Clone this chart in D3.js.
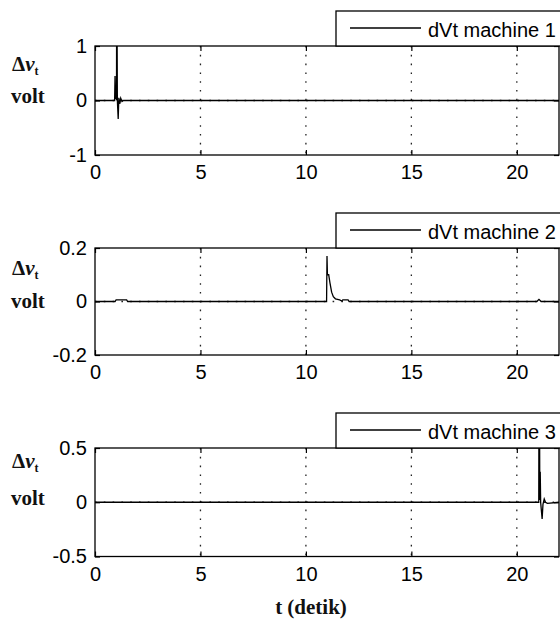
<!DOCTYPE html>
<html>
<head>
<meta charset="utf-8">
<script src="https://cdn.jsdelivr.net/npm/d3@7"></script>
<style>
  body { margin: 0; background: #fff; }
  svg { display: block; }
  .tick text { font-family: "Liberation Sans", Arial, sans-serif; font-size: 20px; fill: #000; }
  .tick line { stroke: #000; stroke-width: 1.2; }
  .domain { display: none; }
  .grid line { stroke: #222; stroke-width: 1.3; stroke-dasharray: 1.6 7.2; }
  .frame { fill: none; stroke: #000; stroke-width: 1.3; }
  .trace { fill: none; stroke: #000; stroke-width: 1.3; }
  .ylab { font-family: "Liberation Serif", "Times New Roman", serif; font-weight: bold; font-size: 21px; fill: #111; }
  .legend text { font-family: "Liberation Sans", Arial, sans-serif; font-size: 20px; fill: #000; }
</style>
</head>
<body>
<svg id="chart" width="560" height="619"></svg>
<script>
// time axis (detik)
const tDomain = [0, 22];
const tTicks = [0, 5, 10, 15, 20];

// machine 1
const m1Time = [0, 0.93, 0.95, 0.97, 1.02, 1.03, 1.06, 1.10, 1.13, 1.18, 1.22, 1.28, 1.35, 22];
const m1Volt = [0, 0, 0.45, 0.05, 0.02, 3.0, 0.0, -0.34, 0.05, -0.06, 0.04, -0.02, 0, 0];

// machine 2
const m2Time = [0, 0.95, 1.0, 1.5, 1.55, 10.98, 11.0, 11.02, 11.08, 11.14, 11.22, 11.3, 11.4, 11.6, 11.7, 11.75, 12.0, 12.05, 20.95, 21.05, 21.15, 22];
const m2Volt = [0, 0, 0.006, 0.006, 0, 0, 0.17, 0.1, 0.1, 0.07, 0.035, 0.018, 0.01, 0.006, 0.002, 0.006, 0.006, 0, 0, 0.008, 0, 0];

// machine 3
const m3Time = [0, 21.04, 21.06, 21.09, 21.11, 21.13, 21.2, 21.24, 21.3, 21.36, 21.45, 22];
const m3Volt = [0, 0, 2.0, 0.02, 0.28, 0.0, -0.155, -0.02, 0.03, 0.0, -0.01, 0];

const legendNames = ["dVt machine 1", "dVt machine 2", "dVt machine 3"];
const yDomains = [[-1, 1], [-0.2, 0.2], [-0.5, 0.5]];
const yTicks = [[-1, 0, 1], [-0.2, 0, 0.2], [-0.5, 0, 0.5]];
const yTickLabels = [["-1", "0", "1"], ["-0.2", "0", "0.2"], ["-0.5", "0", "0.5"]];

const series = [
  m1Time.map((t, i) => ({ t, v: m1Volt[i] })),
  m2Time.map((t, i) => ({ t, v: m2Volt[i] })),
  m3Time.map((t, i) => ({ t, v: m3Volt[i] }))
];

// layout
const left = 95, right = 559;
const panels = [
  { top: 46, bottom: 155, dY: 25, voltY: 57 },
  { top: 248, bottom: 355, dY: 27, voltY: 60 },
  { top: 448, bottom: 556.5, dY: 20, voltY: 57 }
];

const svg = d3.select('#chart');

const x = d3.scaleLinear().domain(tDomain).range([left, right]);

panels.forEach((p, k) => {
  const y = d3.scaleLinear().domain(yDomains[k]).range([p.bottom, p.top]);
  const g = svg.append('g');

  g.append('clipPath')
    .attr('id', 'clip' + k)
    .append('rect')
    .attr('x', left)
    .attr('y', p.top)
    .attr('width', right - left)
    .attr('height', p.bottom - p.top);

  // dotted grid
  const grid = g.append('g').attr('class', 'grid');
  grid.selectAll('.vg')
    .data(tTicks.filter(d => d > tDomain[0]))
    .enter()
    .append('line')
    .attr('x1', d => x(d)).attr('x2', d => x(d))
    .attr('y1', p.top).attr('y2', p.bottom);
  grid.selectAll('.hg')
    .data(yTicks[k].filter(d => d > yDomains[k][0] && d < yDomains[k][1]))
    .enter()
    .append('line')
    .attr('x1', left).attr('x2', right)
    .attr('y1', d => y(d)).attr('y2', d => y(d));

  // axes with inward ticks
  g.append('g')
    .attr('transform', `translate(0, ${p.bottom})`)
    .call(d3.axisBottom(x).tickValues(tTicks).tickSize(-5).tickSizeOuter(0).tickPadding(10))
    .call(a => a.selectAll('text').attr('dy', '0.71em'));
  g.append('g')
    .attr('transform', `translate(0, ${p.top})`)
    .call(d3.axisTop(x).tickValues(tTicks).tickSize(-5).tickSizeOuter(0).tickFormat(''));
  g.append('g')
    .attr('transform', `translate(${left}, 0)`)
    .call(d3.axisLeft(y).tickValues(yTicks[k]).tickSize(-5).tickSizeOuter(0).tickPadding(8)
      .tickFormat((d, i) => yTickLabels[k][i]));
  g.append('g')
    .attr('transform', `translate(${right}, 0)`)
    .call(d3.axisRight(y).tickValues(yTicks[k]).tickSize(-5).tickSizeOuter(0).tickFormat(''));

  // trace
  const line = d3.line().x(d => x(d.t)).y(d => y(d.v));
  g.append('path')
    .datum(series[k])
    .attr('class', 'trace')
    .attr('clip-path', `url(#clip${k})`)
    .attr('d', line);

  g.append('rect')
    .attr('class', 'frame')
    .attr('x', left)
    .attr('y', p.top)
    .attr('width', right - left)
    .attr('height', p.bottom - p.top);

  // legend
  const lg = g.append('g').attr('class', 'legend');
  lg.append('rect')
    .attr('x', 336)
    .attr('y', p.top - 35)
    .attr('width', 240)
    .attr('height', 35)
    .attr('fill', '#fff')
    .attr('stroke', '#000')
    .attr('stroke-width', 1.3);
  lg.append('line')
    .attr('x1', 350).attr('x2', 421)
    .attr('y1', p.top - 18).attr('y2', p.top - 18)
    .attr('stroke', '#000')
    .attr('stroke-width', 1.3);
  lg.append('text')
    .attr('x', 428)
    .attr('y', p.top - 9)
    .text(legendNames[k]);

  // y label
  const yl = g.append('text')
    .attr('class', 'ylab')
    .attr('x', 12)
    .attr('y', p.top + p.dY);
  yl.append('tspan').text('Δ');
  yl.append('tspan').attr('font-style', 'italic').text('v');
  yl.append('tspan').attr('font-size', '12px').attr('dy', 4).text('t');
  g.append('text')
    .attr('class', 'ylab')
    .attr('x', 11)
    .attr('y', p.top + p.voltY)
    .text('volt');
});

svg.append('text')
  .attr('class', 'ylab')
  .attr('x', 311)
  .attr('y', 614)
  .attr('text-anchor', 'middle')
  .text('t (detik)');
</script>
</body>
</html>
